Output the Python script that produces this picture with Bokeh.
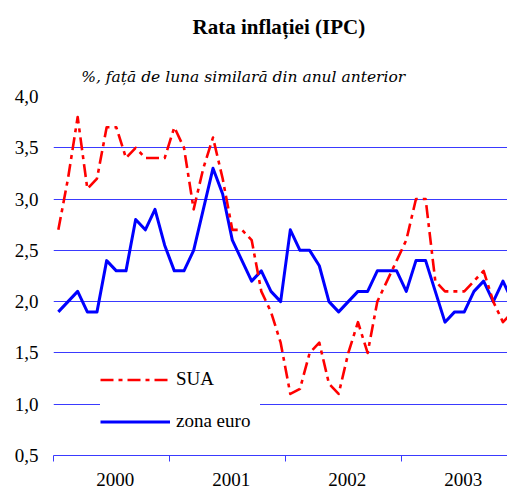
from bokeh.plotting import figure
from bokeh.models import Range1d, FixedTicker, Title, Legend, LegendItem, ColumnDataSource
from bokeh.embed import file_html
from bokeh.resources import INLINE

# ---- data (monthly, Jan 2000 .. Dec 2003) ----
month_index = list(range(48))
years = ["2000", "2001", "2002", "2003"]
usa = [2.7, 3.2, 3.8, 3.1, 3.2, 3.7, 3.7, 3.4, 3.5, 3.4, 3.4, 3.4,
       3.7, 3.5, 2.9, 3.3, 3.6, 3.2, 2.7, 2.7, 2.6, 2.1, 1.9, 1.6,
       1.1, 1.15, 1.5, 1.6, 1.2, 1.1, 1.5, 1.8, 1.5, 2.0, 2.2, 2.4,
       2.6, 3.0, 3.0, 2.2, 2.1, 2.1, 2.1, 2.2, 2.3, 2.0, 1.8, 1.9]
euro = [1.9, 2.0, 2.1, 1.9, 1.9, 2.4, 2.3, 2.3, 2.8, 2.7, 2.9, 2.55,
        2.3, 2.3, 2.5, 2.9, 3.3, 3.05, 2.6, 2.4, 2.2, 2.3, 2.1, 2.0,
        2.7, 2.5, 2.5, 2.35, 2.0, 1.9, 2.0, 2.1, 2.1, 2.3, 2.3, 2.3,
        2.1, 2.4, 2.4, 2.1, 1.8, 1.9, 1.9, 2.1, 2.2, 2.0, 2.2, 2.0]
y_ticks = [0.5, 1.0, 1.5, 2.0, 2.5, 3.0, 3.5, 4.0]
y_tick_labels = ["0,5", "1,0", "1,5", "2,0", "2,5", "3,0", "3,5", "4,0"]
series_names = ["SUA", "zona euro"]
title_text = "Rata inflației (IPC)"
subtitle_text = "%, față de luna similară din anul anterior"

# months are categories: each point sits in the middle of its month slot
x = [m + 0.5 for m in month_index]
src = ColumnDataSource(dict(x=x, usa=usa, euro=euro))

FONT = "Liberation Serif"
GRID = "#3a3aff"

p = figure(width=507, height=488, output_backend="svg", toolbar_location=None,
           tools="", title=None,
           x_range=Range1d(0, 46.97), y_range=Range1d(0.5, 4.0),
           min_border_left=53, min_border_right=0, min_border_top=0,
           min_border_bottom=33)
p.outline_line_color = None
p.background_fill_color = "white"
p.border_fill_color = "white"

# titles (inner first)
p.add_layout(Title(text=subtitle_text, align="left", offset=27.7,
                   vertical_align="bottom", standoff=22,
                   text_font="DejaVu Serif",
                   text_font_style="italic", text_font_size="15.5px",
                   text_color="black"), "above")
p.add_layout(Title(text=title_text, align="left", offset=139,
                   vertical_align="top",
                   standoff=28, text_font=FONT, text_font_style="bold",
                   text_font_size="21px", text_color="black"), "above")

# grid
p.xgrid.visible = False
p.ygrid.ticker = FixedTicker(ticks=y_ticks)
p.ygrid.grid_line_color = GRID
p.ygrid.grid_line_width = 1

# y axis
p.yaxis.ticker = FixedTicker(ticks=y_ticks)
p.yaxis.major_label_overrides = dict(zip(y_ticks, y_tick_labels))
p.yaxis.axis_line_color = None
p.yaxis.major_tick_line_color = None
p.yaxis.minor_tick_line_color = None
p.yaxis.major_tick_out = 0
p.yaxis.major_tick_in = 0
p.yaxis.major_label_standoff = 15
p.yaxis.major_label_text_font = FONT
p.yaxis.major_label_text_font_style = "normal"
p.yaxis.major_label_text_font_size = "19px"
p.yaxis.major_label_text_color = "black"

# x axis: year labels in the middle of each year, ticks at year boundaries
label_shift = 0.4
year_mid = [6 + 12 * i + label_shift for i in range(len(years))]
year_edges = [12 * i for i in range(len(years) + 1)]
p.xaxis.ticker = FixedTicker(ticks=year_mid, minor_ticks=year_edges)
p.xaxis.major_label_overrides = dict(zip(year_mid, years))
p.xaxis.axis_line_color = GRID
p.xaxis.axis_line_width = 1
p.xaxis.major_tick_line_color = None
p.xaxis.major_tick_out = 0
p.xaxis.major_tick_in = 0
p.xaxis.minor_tick_line_color = GRID
p.xaxis.minor_tick_out = 6
p.xaxis.minor_tick_in = 0
p.xaxis.major_label_standoff = 11
p.xaxis.major_label_text_font = FONT
p.xaxis.major_label_text_font_style = "normal"
p.xaxis.major_label_text_font_size = "19px"
p.xaxis.major_label_text_color = "black"

# series
r_euro = p.line("x", "euro", source=src, line_color="#0000ff", line_width=3,
                line_join="round")
r_usa = p.line("x", "usa", source=src, line_color="#ff0000", line_width=2.6,
               line_dash="13 5 4 5", line_join="round")

legend = Legend(items=[LegendItem(label=series_names[0], renderers=[r_usa]),
                       LegendItem(label=series_names[1], renderers=[r_euro])],
                location=(47, 23), padding=10, spacing=20,
                glyph_width=70, glyph_height=21, label_height=21,
                label_width=84, label_standoff=6,
                label_text_font=FONT, label_text_font_style="normal",
                label_text_font_size="19px",
                label_text_color="black",
                background_fill_color="white", background_fill_alpha=1.0,
                border_line_color=None)
p.add_layout(legend, "center")

open("out.html", "w").write(file_html(p, INLINE))
